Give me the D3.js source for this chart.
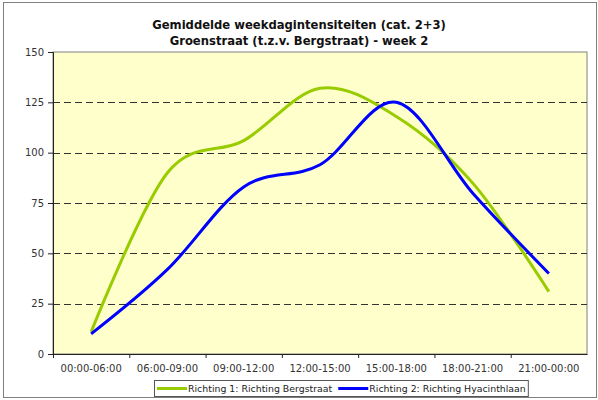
<!DOCTYPE html>
<html>
<head>
<meta charset="utf-8">
<script src="https://cdn.jsdelivr.net/npm/d3@7"></script>
<style>
  body { margin: 0; background: #fff; }
  svg { display: block; font-family: Verdana, "DejaVu Sans", sans-serif; }
</style>
</head>
<body>
<svg width="598" height="400"></svg>
<script>
const categories = ['00:00-06:00', '06:00-09:00', '09:00-12:00', '12:00-15:00', '15:00-18:00', '18:00-21:00', '21:00-00:00']
const richting1 = [11, 90, 106, 132, 118, 85, 31]
const richting2 = [10, 42, 83, 94, 125, 80, 40]
const yTicks = [0, 25, 50, 75, 100, 125, 150]
const seriesNames = ['Richting 1: Richting Bergstraat', 'Richting 2: Richting Hyacinthlaan']
const seriesColors = ['#99cc00', '#0000ff']

const svg = d3.select('svg')
const plot = { left: 53, right: 587, top: 52, bottom: 354 }

// outer chart border
svg.append('rect')
  .attr('x', 3.5).attr('y', 2.5)
  .attr('width', 593).attr('height', 395)
  .attr('fill', '#fff')
  .attr('stroke', '#808080')

svg.append('text')
  .attr('x', 299).attr('y', 29)
  .attr('text-anchor', 'middle')
  .attr('font-size', 11.6).attr('font-weight', 'bold')
  .attr('fill', '#111')
  .text('Gemiddelde weekdagintensiteiten (cat. 2+3)')
svg.append('text')
  .attr('x', 299).attr('y', 45)
  .attr('text-anchor', 'middle')
  .attr('font-size', 11.6).attr('font-weight', 'bold')
  .attr('fill', '#111')
  .text('Groenstraat (t.z.v. Bergstraat) - week 2')

const x = d3.scaleBand()
  .domain(categories)
  .range([plot.left, plot.right])
const y = d3.scaleLinear()
  .domain([0, 150])
  .range([plot.bottom, plot.top])

svg.append('rect')
  .attr('x', plot.left).attr('y', plot.top)
  .attr('width', plot.right - plot.left)
  .attr('height', plot.bottom - plot.top)
  .attr('fill', '#ffffcc')
  .attr('stroke', '#808080')

// dashed gridlines
svg.append('g')
  .selectAll('line')
  .data(yTicks.filter(t => t > 0 && t < 150))
  .join('line')
  .attr('x1', plot.left).attr('x2', plot.right)
  .attr('y1', d => Math.round(y(d)) + 0.5)
  .attr('y2', d => Math.round(y(d)) + 0.5)
  .attr('stroke', '#333')
  .attr('stroke-dasharray', '7,4')

const yAxis = svg.append('g')
  .attr('transform', `translate(${plot.left},0)`)
  .call(d3.axisLeft(y).tickValues(yTicks).tickSize(5).tickPadding(4))
yAxis.select('.domain').attr('stroke', '#222')
yAxis.selectAll('.tick line').attr('stroke', '#222')
yAxis.selectAll('text')
  .attr('font-size', 10).attr('fill', '#333')
  .attr('font-family', 'Verdana, "DejaVu Sans", sans-serif')

const xAxis = svg.append('g')
  .attr('transform', `translate(0,${plot.bottom})`)
  .call(d3.axisBottom(x).tickSize(0).tickPadding(11))
xAxis.select('.domain').attr('stroke', '#222')
xAxis.selectAll('text')
  .attr('font-size', 10).attr('fill', '#333')
  .attr('font-family', 'Verdana, "DejaVu Sans", sans-serif')
// ticks between categories
xAxis.selectAll('.sep')
  .data(categories)
  .join('line')
  .attr('class', 'sep')
  .attr('x1', d => x(d) + 0.5).attr('x2', d => x(d) + 0.5)
  .attr('y1', 0).attr('y2', 4)
  .attr('stroke', '#222')

const line = d3.line()
  .x((d, i) => x(categories[i]) + x.bandwidth() / 2)
  .y(d => y(d))
  .curve(d3.curveCatmullRom.alpha(0))

;[richting1, richting2].forEach((values, i) => {
  svg.append('path')
    .datum(values)
    .attr('d', line)
    .attr('fill', 'none')
    .attr('stroke', seriesColors[i])
    .attr('stroke-width', 3)
})

// legend
const legend = svg.append('g')
const legendBox = legend.append('rect')
  .attr('x', 154.5).attr('y', 380.5)
  .attr('height', 16)
  .attr('fill', '#fff')
  .attr('stroke', '#555')
let lx = 157
seriesNames.forEach((name, i) => {
  legend.append('line')
    .attr('x1', lx).attr('x2', lx + 30)
    .attr('y1', 388.5).attr('y2', 388.5)
    .attr('stroke', seriesColors[i])
    .attr('stroke-width', 3)
  const t = legend.append('text')
    .attr('x', lx + 31).attr('y', 392)
    .attr('font-size', 9.4).attr('fill', '#222')
    .text(name)
  lx += 31 + t.node().getComputedTextLength() + 6
})
legendBox.attr('width', lx - 154 - 4)
</script>
</body>
</html>
